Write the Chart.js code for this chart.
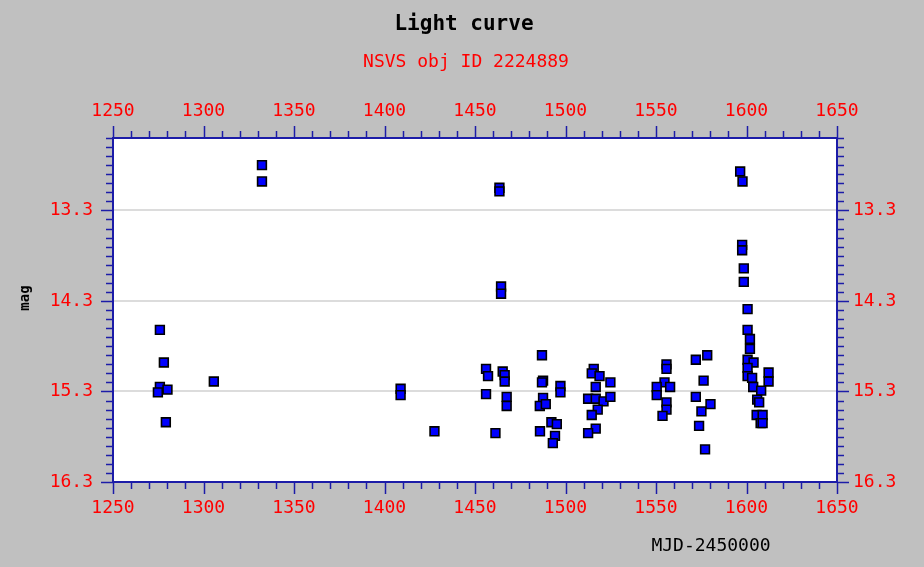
<!DOCTYPE html>
<html>
<head>
<meta charset="utf-8">
<title>Light curve</title>
<script src="https://cdn.jsdelivr.net/npm/chart.js@4.4.1/dist/chart.umd.min.js"></script>
<style>
  body { margin: 0; background: #c0c0c0; }
  canvas { display: block; }
</style>
</head>
<body>
<canvas id="lightCurve" width="924" height="567"></canvas>
<script>
const mjd = [
    1275.9, 1278.1, 1275.9, 1274.8, 1280.1, 1279.2,
    1305.7,
    1332.3, 1332.3,
    1408.9, 1408.9,
    1427.6,
    1456.1, 1457.2, 1456.1, 1461.3,
    1463.5, 1463.5, 1464.4, 1464.4,
    1465.3, 1466.4, 1466.4, 1467.5, 1467.5,
    1487.0, 1487.6, 1487.0, 1487.6, 1485.8, 1489.1, 1485.9,
    1492.2, 1495.2, 1494.2, 1493.0, 1497.2, 1497.2,
    1515.6, 1514.5, 1518.8, 1516.7, 1512.5, 1516.7, 1521.0, 1524.8, 1524.8, 1517.8, 1514.5, 1516.7, 1512.5,
    1555.8, 1555.8, 1554.7, 1550.4, 1557.8, 1550.4, 1555.8, 1555.8, 1553.6,
    1572.0, 1578.3, 1576.3, 1572.0, 1580.1, 1575.1, 1573.8, 1577.1,
    1596.5, 1597.8, 1597.6, 1597.6, 1598.5, 1598.5, 1600.6, 1600.6, 1601.9, 1601.9, 1600.6, 1603.9,
    1600.6, 1600.6, 1603.1, 1603.7, 1608.1, 1612.2, 1612.2, 1605.9, 1607.0, 1605.6, 1608.9, 1607.8, 1608.9
];
const mag = [
    14.62, 14.98, 15.25, 15.31, 15.28, 15.64,
    15.19,
    12.80, 12.98,
    15.27, 15.34,
    15.74,
    15.05, 15.13, 15.33, 15.76,
    13.05, 13.09, 14.14, 14.22,
    15.08, 15.12, 15.19, 15.36, 15.46,
    14.90, 15.18, 15.20, 15.37, 15.46, 15.44, 15.74,
    15.64, 15.66, 15.79, 15.87, 15.24, 15.31,
    15.05, 15.10, 15.13, 15.25, 15.38, 15.38, 15.41, 15.20, 15.36, 15.50, 15.56, 15.71, 15.76,
    15.00, 15.05, 15.20, 15.25, 15.25, 15.34, 15.42, 15.50, 15.57,
    14.95, 14.90, 15.18, 15.36, 15.44, 15.52, 15.68, 15.94,
    12.87, 12.98, 13.68, 13.74, 13.94, 14.09, 14.39, 14.62, 14.72, 14.83, 14.95, 14.98,
    15.04, 15.13, 15.15, 15.25, 15.29, 15.09, 15.19, 15.39, 15.42, 15.56, 15.56, 15.65, 15.65
];
const magTicks = [13.3, 14.3, 15.3, 16.3];
const title = "Light curve";
const subtitle = "NSVS obj ID 2224889";
const xTitle = "MJD-2450000";
const yTitle = "mag";

const axisBlue = "#1c1ca8";
const mono = "'DejaVu Sans Mono', 'Liberation Mono', monospace";

const points = mjd.map((x, i) => ({ x: x, y: mag[i] }));

// fond gris + zone blanche, textes et petites graduations
const frame = {
    id: "frame",
    beforeDraw(chart) {
        const { ctx, chartArea: a } = chart;
        ctx.save();
        ctx.fillStyle = "#c0c0c0";
        ctx.fillRect(0, 0, chart.width, chart.height);
        ctx.fillStyle = "#ffffff";
        ctx.fillRect(a.left, a.top, a.right - a.left, a.bottom - a.top);
        ctx.restore();
    },
    afterDraw(chart) {
        const { ctx, chartArea: a, scales } = chart;
        ctx.save();
        ctx.strokeStyle = axisBlue;
        ctx.lineWidth = 1.5;
        ctx.beginPath();
        for (let v = 1250; v <= 1650; v += 10) {
            const px = Math.round(scales.x.getPixelForValue(v)) + 0.5;
            const len = v % 50 === 0 ? 12 : 7;
            ctx.moveTo(px, a.top); ctx.lineTo(px, a.top - len);
            ctx.moveTo(px, a.bottom); ctx.lineTo(px, a.bottom + len);
        }
        for (let k = 125; k <= 163; k++) {
            const v = k / 10;
            const py = Math.round(scales.y.getPixelForValue(v)) + 0.5;
            const len = (k - 3) % 10 === 0 ? 12 : 7;
            ctx.moveTo(a.left, py); ctx.lineTo(a.left - len, py);
            ctx.moveTo(a.right, py); ctx.lineTo(a.right + len, py);
        }
        ctx.stroke();

        ctx.textAlign = "center";
        ctx.textBaseline = "middle";
        ctx.fillStyle = "#000000";
        ctx.font = "bold 21px " + mono;
        ctx.fillText(title, 464, 25);
        ctx.fillStyle = "#ff0000";
        ctx.font = "18px " + mono;
        ctx.fillText(subtitle, 466, 62);
        ctx.fillStyle = "#000000";
        ctx.fillText(xTitle, 711, 546);

        ctx.translate(25, 298);
        ctx.rotate(-Math.PI / 2);
        ctx.font = "bold 14px " + mono;
        ctx.fillText(yTitle, 0, 0);
        ctx.restore();
    }
};

function xAxis(position, size, pad) {
    return {
        type: "linear",
        position: position,
        min: 1250,
        max: 1650,
        grid: { display: false, drawTicks: false },
        border: { display: true, color: axisBlue, width: 2 },
        ticks: {
            stepSize: 50,
            color: "#ff0000",
            padding: pad,
            maxRotation: 0,
            font: { family: mono, size: 18 },
            callback: value => String(value)
        },
        afterFit(scale) { scale.height = size; }
    };
}

function yAxis(position, size, pad, showGrid) {
    return {
        type: "linear",
        position: position,
        reverse: true,
        min: 12.5,
        max: 16.3,
        afterBuildTicks(scale) {
            scale.ticks = magTicks.map(v => ({ value: v }));
        },
        grid: {
            display: showGrid,
            drawTicks: false,
            color: "#dcdcdc",
            lineWidth: 2
        },
        border: { display: true, color: axisBlue, width: 2 },
        ticks: {
            color: "#ff0000",
            padding: pad,
            font: { family: mono, size: 18 },
            callback: value => Number(value).toFixed(1)
        },
        afterFit(scale) { scale.width = size; }
    };
}

const ctx = document.getElementById("lightCurve").getContext("2d");

new Chart(ctx, {
    type: "scatter",
    data: {
        datasets: [{
            label: "mag",
            data: points,
            pointStyle: "rect",
            pointRadius: 6.2,
            pointHoverRadius: 6.2,
            backgroundColor: "#0000ff",
            borderColor: "#000000",
            borderWidth: 1.6
        }]
    },
    options: {
        responsive: false,
        animation: false,
        layout: { padding: 0 },
        plugins: {
            legend: { display: false },
            tooltip: { enabled: false },
            title: { display: false }
        },
        scales: {
            x: xAxis("bottom", 85, 16),
            x2: xAxis("top", 138, 16),
            y: yAxis("left", 113, 20, true),
            y2: yAxis("right", 87, 16, false)
        }
    },
    plugins: [frame]
});
</script>
</body>
</html>
